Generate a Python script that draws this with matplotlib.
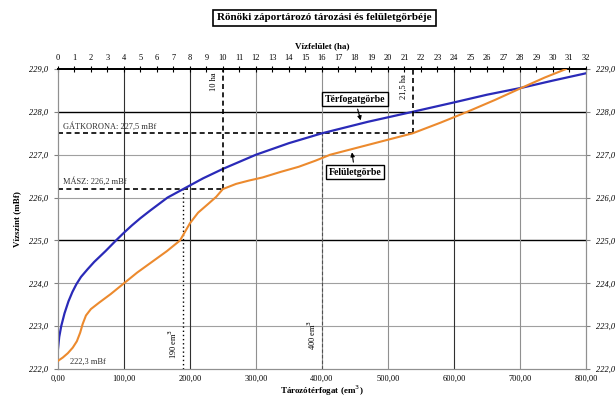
import matplotlib
matplotlib.use("Agg")
import matplotlib.pyplot as plt
import numpy as np

plt.rcParams['font.family'] = ['Liberation Serif', 'DejaVu Serif']

# Térfogatgörbe: tározótérfogat (em3) -> vízszint (mBf)
vol_v = [0, 2, 5, 10, 16, 22, 28, 35, 45, 55, 72, 88, 100, 112, 125, 140, 153, 166,
         190, 220, 250, 300, 350, 400, 470, 537, 600, 650, 705, 750, 800]
vol_h = [222.45, 222.75, 223.0, 223.3, 223.58, 223.8, 223.98, 224.15, 224.33, 224.5,
         224.75, 225.0, 225.18, 225.35, 225.52, 225.7, 225.85, 226.0,
         226.2, 226.45, 226.67, 227.0, 227.27, 227.5, 227.77, 228.0, 228.22,
         228.4, 228.57, 228.73, 228.9]

# Felületgörbe: vízfelület (ha) -> vízszint (mBf)
area_a = [0, 0.3, 0.6, 0.9, 1.15, 1.35, 1.5, 1.7, 2.0, 2.5, 3.2, 4.0, 4.8, 5.7,
          6.6, 7.4, 7.7, 8.0, 8.5, 9.1, 9.6, 10.0, 10.8, 11.6, 12.4, 13.5, 14.6,
          15.6, 16.5, 17.8, 19.0, 20.3, 21.5, 23.2, 24.8, 26.5, 28.1, 29.5, 30.8]
area_h = [222.19, 222.27, 222.37, 222.5, 222.65, 222.85, 223.05, 223.25, 223.4,
          223.55, 223.75, 224.0, 224.25, 224.5, 224.75, 225.0, 225.2, 225.4,
          225.65, 225.85, 226.02, 226.2, 226.32, 226.4, 226.47, 226.6, 226.72,
          226.86, 227.0, 227.13, 227.25, 227.38, 227.5, 227.75, 228.0, 228.28,
          228.56, 228.8, 229.0]

# jellemző szintek
masz = 226.2
gatkorona = 227.5
masz_ha, gat_ha = 10.0, 21.5
masz_vol, gat_vol = 190, 400

y_ticks = np.arange(222, 229.5, 1.0)
x_ticks = np.arange(0, 801, 100)
top_ticks = np.arange(0, 33, 1)

fig = plt.figure(figsize=(6.16, 3.99), dpi=100)
ax = fig.add_axes([0.094, 0.075, 0.857, 0.752])
ax.set_xlim(0, 800)
ax.set_ylim(222, 229)

# rács
for y in y_ticks[1:-1]:
    c = 'black' if y in (225, 228) else '#a0a0a0'
    ax.axhline(y, color=c, lw=1.0 if c == 'black' else 0.8, zorder=1)
for x in x_ticks[1:-1]:
    c = '#303030' if x in (100, 200, 600) else '#909090'
    ax.axvline(x, color=c, lw=0.8, zorder=1)

ax.plot(vol_v, vol_h, color='#2a2ab8', lw=1.6, zorder=4)

ax2 = ax.twiny()
ax2.set_xlim(0, 32)
ax2.plot(area_a, area_h, color='#ec8a2e', lw=1.5, zorder=4)

# szaggatott segédvonalak
ax.hlines(gatkorona, 0, gat_ha * 25, colors='black', linestyles=(0, (3, 2)), lw=1.2, zorder=3)
ax.hlines(masz, 0, masz_ha * 25, colors='black', linestyles=(0, (3, 2)), lw=1.2, zorder=3)
ax2.vlines(masz_ha, masz, 229, colors='black', linestyles=(0, (3, 2)), lw=1.2, zorder=3)
ax2.vlines(gat_ha, gatkorona, 229, colors='black', linestyles=(0, (3, 2)), lw=1.2, zorder=3)
ax.vlines(masz_vol, 222, masz, colors='black', linestyles=(0, (1, 2)), lw=1.0, zorder=3)
ax.vlines(gat_vol, 222, gatkorona, colors='#505050', linestyles=(0, (3, 2)), lw=0.8, zorder=3)

fs = 6
ax.text(8, gatkorona + 0.07, 'GÁTKORONA: 227,5 mBf', fontsize=fs, color='#303030', va='bottom')
ax.text(8, masz + 0.07, 'MÁSZ: 226,2 mBf', fontsize=fs, color='#303030', va='bottom')
ax.text(18, 222.08, '222,3 mBf', fontsize=fs, color='#303030', va='bottom')
ax2.text(masz_ha - 0.3, 228.7, '10 ha', fontsize=fs, rotation=90, ha='right', va='center')
ax2.text(gat_ha - 0.3, 228.6, '21,5 ha', fontsize=fs, rotation=90, ha='right', va='center')
ax.text(masz_vol - 6, 222.6, '190 em$^3$', fontsize=fs, rotation=90, ha='right', va='center')
ax.text(gat_vol - 6, 222.8, '400 em$^3$', fontsize=fs, rotation=90, ha='right', va='center')

box = dict(boxstyle='square,pad=0.25', fc='white', ec='black', lw=1.0)
ax.annotate('Térfogatgörbe', xy=(460, 227.74), xytext=(450, 228.3), fontsize=7,
            fontweight='bold', ha='center', va='center', bbox=box, zorder=6,
            arrowprops=dict(arrowstyle='-|>', color='black', lw=0.8, mutation_scale=6))
ax.annotate('Felületgörbe', xy=(445, 227.12), xytext=(450, 226.59), fontsize=7,
            fontweight='bold', ha='center', va='center', bbox=box, zorder=6,
            arrowprops=dict(arrowstyle='-|>', color='black', lw=0.8, mutation_scale=6))

# tengelyek
ax.set_xticks(x_ticks)
ax.set_xticklabels([f'{v:.2f}'.replace('.', ',') for v in x_ticks], fontsize=fs)
ax.set_yticks(y_ticks)
ax.set_yticklabels([f'{v:.1f}'.replace('.', ',') for v in y_ticks], fontsize=fs,
                   style='italic')
ax.tick_params(axis='y', which='both', right=True, labelright=True, length=3,
               color='#808080', pad=4)
ax.tick_params(axis='x', length=0, pad=4)
ax2.set_xticks(top_ticks)
ax2.set_xticklabels([str(t) for t in top_ticks], fontsize=fs)
ax2.tick_params(axis='x', direction='inout', length=4, width=0.8, pad=3)

for a in (ax, ax2):
    for s in ('left', 'right', 'bottom'):
        a.spines[s].set_color('#909090')
        a.spines[s].set_linewidth(0.8)
    a.spines['top'].set_color('black')
    a.spines['top'].set_linewidth(1.3)

ax.set_xlabel('Tározótérfogat (em$^3$)', fontsize=6.5, fontweight='bold', labelpad=1)
ax.set_ylabel('Vízszint (mBf)', fontsize=6.5, fontweight='bold', labelpad=6)
ax2.set_xlabel('Vízfelület (ha)', fontsize=6.5, fontweight='bold', labelpad=4)

fig.text(0.527, 0.955, 'Rönöki záportározó tározási és felületgörbéje', fontsize=8,
         fontweight='bold', ha='center', va='center',
         bbox=dict(boxstyle='square,pad=0.35', fc='white', ec='black', lw=1.2))

fig.savefig('out.png', dpi=100)
